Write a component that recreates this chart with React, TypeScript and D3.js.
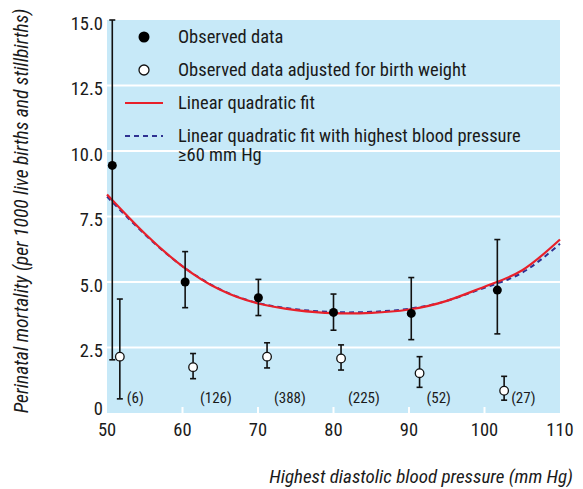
import React from "react";
import * as d3 from "d3";

// observed perinatal mortality by highest diastolic blood pressure
const bpObserved = [50.7, 60.35, 70.05, 80.0, 90.3, 101.7];
const rateObserved = [9.45, 5.0, 4.4, 3.84, 3.8, 4.69];
const lowObserved = [2.03, 4.02, 3.72, 3.16, 2.8, 3.02];
const highObserved = [15.0, 6.16, 5.1, 4.54, 5.17, 6.62];

// adjusted for birth weight
const bpAdjusted = [51.7, 61.4, 71.2, 81.0, 91.4, 102.6];
const rateAdjusted = [2.15, 1.75, 2.15, 2.08, 1.52, 0.85];
const lowAdjusted = [0.54, 1.31, 1.72, 1.64, 0.98, 0.49];
const highAdjusted = [4.35, 2.27, 2.68, 2.6, 2.15, 1.4];
const groupSizes = ["(6)", "(126)", "(388)", "(225)", "(52)", "(27)"];

// fitted curves
const fitBp = [50, 55, 60, 65, 70, 75, 80, 85, 90, 95, 100, 105, 110];
const fitAll = [8.34, 6.85, 5.6, 4.7, 4.18, 3.93, 3.81, 3.82, 3.95, 4.28, 4.82, 5.45, 6.62];
const fitFrom60 = [8.26, 6.82, 5.6, 4.72, 4.2, 3.96, 3.85, 3.86, 3.98, 4.28, 4.78, 5.36, 6.46];

const xTicks = [50, 60, 70, 80, 90, 100, 110];
const yTicks = [0, 2.5, 5, 7.5, 10, 12.5, 15];

const legendItems = [
  { kind: "filled", text: ["Observed data"] },
  { kind: "open", text: ["Observed data adjusted for birth weight"] },
  { kind: "red", text: ["Linear quadratic fit"] },
  { kind: "blue", text: ["Linear quadratic fit with highest blood pressure", "\u226560 mm Hg"] },
];

const FONT = "'Liberation Sans Narrow', 'Arial Narrow', 'Roboto Condensed', sans-serif";

export default function App() {
  const width = 583;
  const height = 489;
  const margin = { top: 20, right: 23, bottom: 76, left: 107 };
  const innerWidth = width - margin.left - margin.right;
  const innerHeight = height - margin.top - margin.bottom;

  const xScale = d3.scaleLinear().domain([50, 110]).range([0, innerWidth]);
  const yScale = d3.scaleLinear().domain([0, 15]).range([innerHeight, 0]);

  const line = d3.line<number>()
    .x((d, i) => xScale(fitBp[i]))
    .y(d => yScale(d))
    .curve(d3.curveNatural);

  const cap = 3;

  return (
    <svg width={width} height={height} style={{ position: "absolute", left: 0, top: 0 }} fontFamily={FONT}>
      <g transform={`translate(${margin.left}, ${margin.top})`}>
        <rect x={0} y={0} width={innerWidth} height={innerHeight} fill="#c7e9f8" />
        {yTicks.filter(t => t > 0 && t < 15).map(t => (
          <line key={t} x1={0} x2={innerWidth} y1={yScale(t)} y2={yScale(t)} stroke="#fff" strokeWidth={2} />
        ))}
        {xTicks.filter(t => t > 50 && t < 110).map(t => (
          <line key={t} x1={xScale(t)} x2={xScale(t)} y1={innerHeight} y2={innerHeight - 6} stroke="#fff" strokeWidth={2} />
        ))}

        {/* y tick labels */}
        {yTicks.map(t => (
          <text key={t} x={-4} y={t === 0 ? yScale(t) + 2 : yScale(t) + 9.5} textAnchor="end" fontSize={18.5} fill="#1a1a1a">
            {t === 0 ? "0" : d3.format(".1f")(t)}
          </text>
        ))}
        {/* x tick labels */}
        {xTicks.map(t => (
          <text key={t} x={xScale(t)} y={innerHeight + 23} textAnchor="middle" fontSize={18.5} fill="#1a1a1a">
            {t}
          </text>
        ))}

        {/* fitted curves */}
        <path d={line(fitFrom60) || ""} fill="none" stroke="#2e3192" strokeWidth={2} strokeDasharray="5,4" />
        <path d={line(fitAll) || ""} fill="none" stroke="#e8202a" strokeWidth={2.2} />

        {/* error bars */}
        {bpObserved.map((b, i) => (
          <g key={"eo" + i} stroke="#111" strokeWidth={1.6}>
            <line x1={xScale(b)} x2={xScale(b)} y1={yScale(lowObserved[i])} y2={yScale(highObserved[i])} />
            <line x1={xScale(b) - cap} x2={xScale(b) + cap} y1={yScale(lowObserved[i])} y2={yScale(lowObserved[i])} />
            <line x1={xScale(b) - cap} x2={xScale(b) + cap} y1={yScale(highObserved[i])} y2={yScale(highObserved[i])} />
          </g>
        ))}
        {bpAdjusted.map((b, i) => (
          <g key={"ea" + i} stroke="#111" strokeWidth={1.6}>
            <line x1={xScale(b)} x2={xScale(b)} y1={yScale(lowAdjusted[i])} y2={yScale(highAdjusted[i])} />
            <line x1={xScale(b) - cap} x2={xScale(b) + cap} y1={yScale(lowAdjusted[i])} y2={yScale(lowAdjusted[i])} />
            <line x1={xScale(b) - cap} x2={xScale(b) + cap} y1={yScale(highAdjusted[i])} y2={yScale(highAdjusted[i])} />
          </g>
        ))}

        {/* points */}
        {bpObserved.map((b, i) => (
          <circle key={"po" + i} cx={xScale(b)} cy={yScale(rateObserved[i])} r={4.5} fill="#000" />
        ))}
        {bpAdjusted.map((b, i) => (
          <circle key={"pa" + i} cx={xScale(b)} cy={yScale(rateAdjusted[i])} r={4.3} fill="#fff" stroke="#111" strokeWidth={1.3} />
        ))}
        {bpAdjusted.map((b, i) => (
          <text key={"n" + i} x={xScale(b) + 7} y={yScale(0.37)} fontSize={15} fill="#1a1a1a">
            {groupSizes[i]}
          </text>
        ))}
      </g>

      {/* legend */}
      {legendItems.map((item, i) => {
        const cy = 37 + i * 33;
        return (
          <g key={item.kind}>
            {item.kind === "filled" && <circle cx={144} cy={cy} r={5.5} fill="#000" />}
            {item.kind === "open" && <circle cx={144} cy={cy} r={5} fill="#fff" stroke="#111" strokeWidth={1.3} />}
            {item.kind === "red" && <line x1={125} x2={163} y1={cy} y2={cy} stroke="#e8202a" strokeWidth={2} />}
            {item.kind === "blue" && <line x1={125} x2={163} y1={cy} y2={cy} stroke="#2e3192" strokeWidth={2} strokeDasharray="5,4" />}
            {item.text.map((t, j) => (
              <text key={j} x={178} y={cy + 6 + j * 19} fontSize={18.5} fill="#1a1a1a">{t}</text>
            ))}
          </g>
        );
      })}

      {/* axis titles */}
      <text x={573} y={483} textAnchor="end" fontSize={19} fontStyle="italic" fill="#1a1a1a">
        Highest diastolic blood pressure (mm Hg)
      </text>
      <text transform="translate(28, 211) rotate(-90)" textAnchor="middle" fontSize={19.5} fontStyle="italic" fill="#1a1a1a">
        Perinatal mortality (per 1000 live births and stillbirths)
      </text>
    </svg>
  );
}
